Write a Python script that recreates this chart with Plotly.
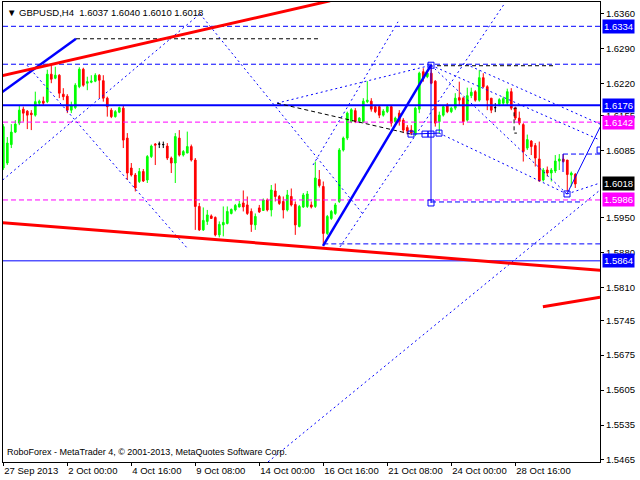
import plotly.graph_objects as go

# ---------------- data ----------------
symbol_text = "GBPUSD,H4"
last_ohlc = ["1.6037", "1.6040", "1.6010", "1.6018"]
copyright_text = "RoboForex - MetaTrader 4, © 2001-2013, MetaQuotes Software Corp."

tick_bars = [0, 16, 32, 48, 64, 80, 96, 112, 128]
tick_dates = ["27 Sep 2013", "2 Oct 00:00", "4 Oct 16:00", "9 Oct 08:00", "14 Oct 00:00",
              "16 Oct 16:00", "21 Oct 08:00", "24 Oct 00:00", "28 Oct 16:00"]

price_ticks = [1.6360, 1.6290, 1.6220, 1.6155, 1.6085, 1.5950, 1.5880, 1.5810,
               1.5745, 1.5675, 1.5605, 1.5535, 1.5465]

opens = [1.6050, 1.6060, 1.6097, 1.6122, 1.6140, 1.6168, 1.6164, 1.6160, 1.6156, 1.6180,
         1.6184, 1.6183, 1.6238, 1.6230, 1.6236, 1.6198, 1.6194, 1.6166, 1.6171, 1.6213,
         1.6248, 1.6220, 1.6222, 1.6224, 1.6236, 1.6225, 1.6190, 1.6166, 1.6153, 1.6162,
         1.6170, 1.6110, 1.6050, 1.6036, 1.6023, 1.6043, 1.6026, 1.6073, 1.6098, 1.6098,
         1.6097, 1.6094, 1.6070, 1.6060, 1.6110, 1.6076, 1.6080, 1.6093, 1.6066, 1.5973,
         1.5926, 1.5943, 1.5954, 1.5951, 1.5916, 1.5936, 1.5939, 1.5959, 1.5966, 1.5972,
         1.5980, 1.5976, 1.5963, 1.5936, 1.5970, 1.5965, 1.5986, 1.5966, 1.6004, 1.5993,
         1.5983, 1.5966, 1.5993, 1.5977, 1.5933, 1.5972, 1.5973, 1.5976, 1.5973, 1.6027,
         1.6013, 1.5919, 1.5949, 1.5959, 1.5983, 1.6086, 1.6110, 1.6143, 1.6165, 1.6143,
         1.6143, 1.6183, 1.6184, 1.6173, 1.6173, 1.6156, 1.6163, 1.6173, 1.6143, 1.6160,
         1.6146, 1.6131, 1.6126, 1.6120, 1.6168, 1.6243, 1.6233, 1.6240, 1.6224, 1.6143,
         1.6156, 1.6176, 1.6163, 1.6170, 1.6191, 1.6190, 1.6146, 1.6195, 1.6203, 1.6186,
         1.6231, 1.6213, 1.6190, 1.6171, 1.6178, 1.6180, 1.6180, 1.6203, 1.6170, 1.6150,
         1.6137, 1.6090, 1.6104, 1.6095, 1.6068, 1.6026, 1.6046, 1.6040, 1.6044, 1.6064,
         1.6068, 1.6066, 1.6036, 1.6037]
highs = [1.6138, 1.6112, 1.6138, 1.6146, 1.6176, 1.6173, 1.6166, 1.6166, 1.6203, 1.6187,
         1.6193, 1.6247, 1.6257, 1.6253, 1.6238, 1.6210, 1.6198, 1.6183, 1.6220, 1.6252,
         1.6251, 1.6233, 1.6236, 1.6240, 1.6238, 1.6236, 1.6193, 1.6170, 1.6166, 1.6173,
         1.6176, 1.6120, 1.6060, 1.6040, 1.6050, 1.6048, 1.6076, 1.6097, 1.6100, 1.6103,
         1.6103, 1.6100, 1.6073, 1.6120, 1.6126, 1.6086, 1.6123, 1.6097, 1.6070, 1.5980,
         1.5971, 1.5966, 1.5957, 1.5953, 1.5943, 1.5973, 1.5973, 1.5969, 1.5978, 1.5984,
         1.6005, 1.5993, 1.5969, 1.5959, 1.5976, 1.5989, 1.5989, 1.6016, 1.6019, 1.5996,
         1.5993, 1.6006, 1.6009, 1.5983, 1.5976, 1.6000, 1.6004, 1.5983, 1.6063, 1.6046,
         1.6023, 1.5956, 1.5966, 1.5980, 1.6090, 1.6113, 1.6163, 1.6170, 1.6170, 1.6152,
         1.6190, 1.6224, 1.6190, 1.6176, 1.6176, 1.6168, 1.6176, 1.6176, 1.6153, 1.6166,
         1.6150, 1.6136, 1.6136, 1.6173, 1.6243, 1.6250, 1.6246, 1.6257, 1.6226, 1.6163,
         1.6176, 1.6180, 1.6173, 1.6200, 1.6223, 1.6193, 1.6211, 1.6211, 1.6206, 1.6246,
         1.6240, 1.6216, 1.6190, 1.6180, 1.6190, 1.6193, 1.6209, 1.6210, 1.6173, 1.6163,
         1.6140, 1.6117, 1.6106, 1.6100, 1.6103, 1.6050, 1.6053, 1.6050, 1.6076, 1.6078,
         1.6078, 1.6066, 1.6043, 1.6040]
lows = [1.6046, 1.6056, 1.6090, 1.6120, 1.6136, 1.6143, 1.6128, 1.6126, 1.6153, 1.6176,
        1.6176, 1.6180, 1.6220, 1.6228, 1.6190, 1.6186, 1.6160, 1.6160, 1.6168, 1.6210,
        1.6213, 1.6206, 1.6220, 1.6222, 1.6190, 1.6183, 1.6153, 1.6150, 1.6151, 1.6160,
        1.6090, 1.6026, 1.6033, 1.6003, 1.6020, 1.6022, 1.6020, 1.6070, 1.6056, 1.6090,
        1.6090, 1.6066, 1.6040, 1.6020, 1.6073, 1.6073, 1.6080, 1.6063, 1.5926, 1.5924,
        1.5924, 1.5936, 1.5948, 1.5913, 1.5911, 1.5913, 1.5937, 1.5957, 1.5963, 1.5971,
        1.5963, 1.5956, 1.5922, 1.5926, 1.5960, 1.5964, 1.5963, 1.5953, 1.5983, 1.5976,
        1.5949, 1.5963, 1.5973, 1.5916, 1.5931, 1.5970, 1.5970, 1.5969, 1.5970, 1.6011,
        1.5897, 1.5916, 1.5946, 1.5956, 1.5980, 1.6083, 1.6106, 1.6140, 1.6140, 1.6140,
        1.6140, 1.6180, 1.6163, 1.6160, 1.6150, 1.6153, 1.6160, 1.6133, 1.6140, 1.6135,
        1.6120, 1.6117, 1.6116, 1.6114, 1.6160, 1.6223, 1.6230, 1.6218, 1.6133, 1.6120,
        1.6153, 1.6160, 1.6160, 1.6166, 1.6176, 1.6136, 1.6143, 1.6190, 1.6183, 1.6183,
        1.6210, 1.6166, 1.6160, 1.6162, 1.6174, 1.6176, 1.6176, 1.6166, 1.6146, 1.6136,
        1.6063, 1.6086, 1.6076, 1.6053, 1.6023, 1.6023, 1.6033, 1.6023, 1.6040, 1.6046,
        1.6061, 1.6003, 1.6013, 1.6010]
closes = [1.6133, 1.6100, 1.6122, 1.6138, 1.6166, 1.6160, 1.6156, 1.6157, 1.6183, 1.6184,
          1.6180, 1.6238, 1.6228, 1.6236, 1.6200, 1.6193, 1.6166, 1.6175, 1.6216, 1.6248,
          1.6216, 1.6223, 1.6224, 1.6236, 1.6226, 1.6190, 1.6173, 1.6153, 1.6163, 1.6171,
          1.6106, 1.6040, 1.6036, 1.6010, 1.6043, 1.6024, 1.6073, 1.6094, 1.6096, 1.6098,
          1.6097, 1.6070, 1.6060, 1.6113, 1.6076, 1.6083, 1.6093, 1.6066, 1.5973, 1.5926,
          1.5945, 1.5956, 1.5949, 1.5916, 1.5937, 1.5941, 1.5963, 1.5967, 1.5975, 1.5978,
          1.5972, 1.5959, 1.5937, 1.5953, 1.5962, 1.5986, 1.5966, 1.6006, 1.5993, 1.5979,
          1.5966, 1.5996, 1.5976, 1.5936, 1.5973, 1.5996, 1.5998, 1.5972, 1.6030, 1.6015,
          1.5919, 1.5953, 1.5963, 1.5976, 1.6086, 1.6110, 1.6160, 1.6167, 1.6143, 1.6150,
          1.6184, 1.6186, 1.6168, 1.6163, 1.6156, 1.6164, 1.6173, 1.6140, 1.6150, 1.6143,
          1.6126, 1.6124, 1.6120, 1.6170, 1.6240, 1.6230, 1.6240, 1.6220, 1.6140, 1.6156,
          1.6173, 1.6163, 1.6170, 1.6190, 1.6186, 1.6143, 1.6195, 1.6202, 1.6186, 1.6231,
          1.6213, 1.6186, 1.6166, 1.6171, 1.6187, 1.6189, 1.6203, 1.6170, 1.6150, 1.6140,
          1.6083, 1.6107, 1.6093, 1.6070, 1.6024, 1.6046, 1.6040, 1.6046, 1.6064, 1.6068,
          1.6063, 1.6037, 1.6040, 1.6018]

# labelled horizontal levels (price, colour, style)
labelled_levels = [
    (1.6334, "#0000FF", "dash"),
    (1.6176, "#0000FF", "thick"),
    (1.6142, "#FF00FF", "dash"),
    (1.5986, "#FF00FF", "dash"),
    (1.5864, "#0000FF", "solid"),
]
current_price = 1.6018

# unlabelled full-width dashed level
extra_dashed_levels = [1.6258]

# overlay objects as (bar, price) points
red_trendlines = [
    [(-0.83, 1.6234), (81.7, 1.6385)],
    [(-0.83, 1.5941), (149.2, 1.5845)],
    [(134.9, 1.5772), (149.2, 1.5791)],
]
thick_blue_lines = [
    [(-0.33, 1.6202), (18.18, 1.6309)],
    [(79.93, 1.5894), (106.93, 1.6256)],
]
thin_blue_lines = [
    [(106.93, 1.6256), (106.93, 1.5980)],
    [(101.93, 1.6118), (108.93, 1.6120)],
    [(140.93, 1.5998), (149.2, 1.6132)],
    [(139.93, 1.6078), (139.93, 1.6042)],
]
dashed_blue_segments = [
    [(80.0, 1.5898), (149.2, 1.5898)],
    [(106.93, 1.5982), (144.9, 1.5982)],
    [(139.93, 1.6078), (149.2, 1.6078)],
]
dotted_blue_lines = [
    [(-0.15, 1.6026), (49.18, 1.6359)],
    [(5.93, 1.6256), (45.93, 1.5890)],
    [(49.18, 1.6359), (89.68, 1.5960)],
    [(68.43, 1.6180), (106.93, 1.6256)],
    [(77.43, 1.6056), (98.68, 1.6343)],
    [(84.18, 1.5892), (125.43, 1.6381)],
    [(115.68, 1.6258), (149.2, 1.6138)],
    [(108.93, 1.6120), (140.93, 1.5998)],
    [(106.93, 1.6256), (140.93, 1.5998)],
    [(106.93, 1.6256), (149.2, 1.6106)],
    [(140.93, 1.5998), (149.2, 1.6020)],
    [(66.18, 1.5461), (149.2, 1.6006)],
]
black_dashed_lines = [
    [(18.18, 1.6309), (78.68, 1.6309)],
    [(108.43, 1.6255), (137.43, 1.6255)],
    [(68.43, 1.6180), (101.93, 1.6118)],
    [(128.4, 1.6170), (127.7, 1.6170), (127.7, 1.6120), (128.4, 1.6120)],
]
square_markers = [
    (101.93, 1.6118), (105.43, 1.6118), (106.93, 1.6118), (108.93, 1.6120),
    (106.93, 1.6256), (106.93, 1.5980), (140.93, 1.5998), (149.2, 1.6086),
]

# ---------------- figure ----------------
FONT = "Liberation Sans, Arial, sans-serif"
BLUE = "#0000FF"
bars = list(range(len(opens)))
normal = [i for i in bars if opens[i] != closes[i]]
doji = [i for i in bars if opens[i] == closes[i]]

fig = go.Figure()
fig.add_trace(go.Candlestick(
    x=normal, open=[opens[i] for i in normal], high=[highs[i] for i in normal],
    low=[lows[i] for i in normal], close=[closes[i] for i in normal],
    increasing=dict(line=dict(color="#00FF00", width=1), fillcolor="#00FF00"),
    decreasing=dict(line=dict(color="#FF0000", width=1), fillcolor="#FF0000"),
    whiskerwidth=0, hoverinfo="skip"))
fig.add_trace(go.Candlestick(
    x=doji, open=[opens[i] for i in doji], high=[highs[i] for i in doji],
    low=[lows[i] for i in doji], close=[closes[i] for i in doji],
    increasing=dict(line=dict(color="#000000", width=1), fillcolor="#000000"),
    decreasing=dict(line=dict(color="#000000", width=1), fillcolor="#000000"),
    whiskerwidth=0, hoverinfo="skip"))


def add_line(pts, color, width, dash="solid"):
    fig.add_trace(go.Scatter(x=[p[0] for p in pts], y=[p[1] for p in pts], mode="lines",
                             line=dict(color=color, width=width, dash=dash),
                             hoverinfo="skip"))


X_LEFT, X_RIGHT = -0.075, 149.18
Y_BOTTOM, Y_TOP = 1.54609, 1.63827

for price, color, style in labelled_levels:
    if style == "thick":
        add_line([(X_LEFT - 2, price), (X_RIGHT + 2, price)], color, 2)
    elif style == "solid":
        add_line([(X_LEFT - 2, price), (X_RIGHT + 2, price)], color, 1)
    else:
        add_line([(X_LEFT, price), (X_RIGHT, price)], color, 1, "5px,3px")
for price in extra_dashed_levels:
    add_line([(X_LEFT, price), (X_RIGHT, price)], BLUE, 1, "5px,3px")

for seg in dashed_blue_segments:
    add_line(seg, BLUE, 1, "5px,3px")
for seg in dotted_blue_lines:
    add_line(seg, BLUE, 1, "2px,3px")
for seg in black_dashed_lines:
    add_line(seg, "#000000", 1, "4px,3px")
for seg in thin_blue_lines:
    add_line(seg, BLUE, 1)
for seg in thick_blue_lines:
    add_line(seg, BLUE, 2.5)
for seg in red_trendlines:
    add_line(seg, "#FF0000", 3)

fig.add_trace(go.Scatter(x=[p[0] for p in square_markers], y=[p[1] for p in square_markers],
                         mode="markers", hoverinfo="skip",
                         marker=dict(symbol="square-open", size=6, color=BLUE,
                                     line=dict(width=1, color=BLUE))))

annotations = []
for price, color, style in labelled_levels:
    annotations.append(dict(x=1, xref="paper", xanchor="left", xshift=2, y=price, yref="y",
                            text=f"{price:.4f}", showarrow=False, bgcolor=color, borderpad=1,
                            font=dict(family=FONT, size=9.5, color="white")))
annotations.append(dict(x=1, xref="paper", xanchor="left", xshift=2, y=current_price, yref="y",
                        text=f"{current_price:.4f}", showarrow=False, bgcolor="#000000",
                        borderpad=1, font=dict(family=FONT, size=9.5, color="white")))
annotations.append(dict(x=0, xref="paper", xanchor="left", xshift=2, y=1, yref="paper",
                        yanchor="top", yshift=-3,
                        text="▼ " + symbol_text + "\u00a0\u00a0" + " ".join(last_ohlc),
                        showarrow=False, font=dict(family=FONT, size=9.5, color="black")))
annotations.append(dict(x=0, xref="paper", xanchor="left", xshift=2, y=0, yref="paper",
                        yanchor="bottom", yshift=3, text=copyright_text, showarrow=False,
                        font=dict(family=FONT, size=9, color="black")))

fig.update_layout(
    width=640, height=480, margin=dict(l=3, r=40, t=2, b=18),
    paper_bgcolor="white", plot_bgcolor="white", showlegend=False, boxgap=0.4,
    annotations=annotations,
    xaxis=dict(range=[X_LEFT, X_RIGHT], showgrid=False, zeroline=False, showline=True,
               mirror=True, linecolor="black", linewidth=1, ticks="outside", ticklen=3,
               tickcolor="black", tickvals=tick_bars, ticktext=tick_dates,
               ticklabelposition="outside right", rangeslider=dict(visible=False),
               tickfont=dict(family=FONT, size=9.5, color="black")),
    yaxis=dict(range=[Y_BOTTOM, Y_TOP], side="right", showgrid=False, zeroline=False,
               showline=True, mirror=True, linecolor="black", linewidth=1, ticks="outside",
               ticklen=3, tickcolor="black", tickvals=price_ticks,
               ticktext=[f"{p:.4f}" for p in price_ticks],
               tickfont=dict(family=FONT, size=9.5, color="black")),
)

fig.write_html("out.html", config={"displayModeBar": False},
               post_script="document.body.style.margin='0';document.body.style.overflow='hidden';")
